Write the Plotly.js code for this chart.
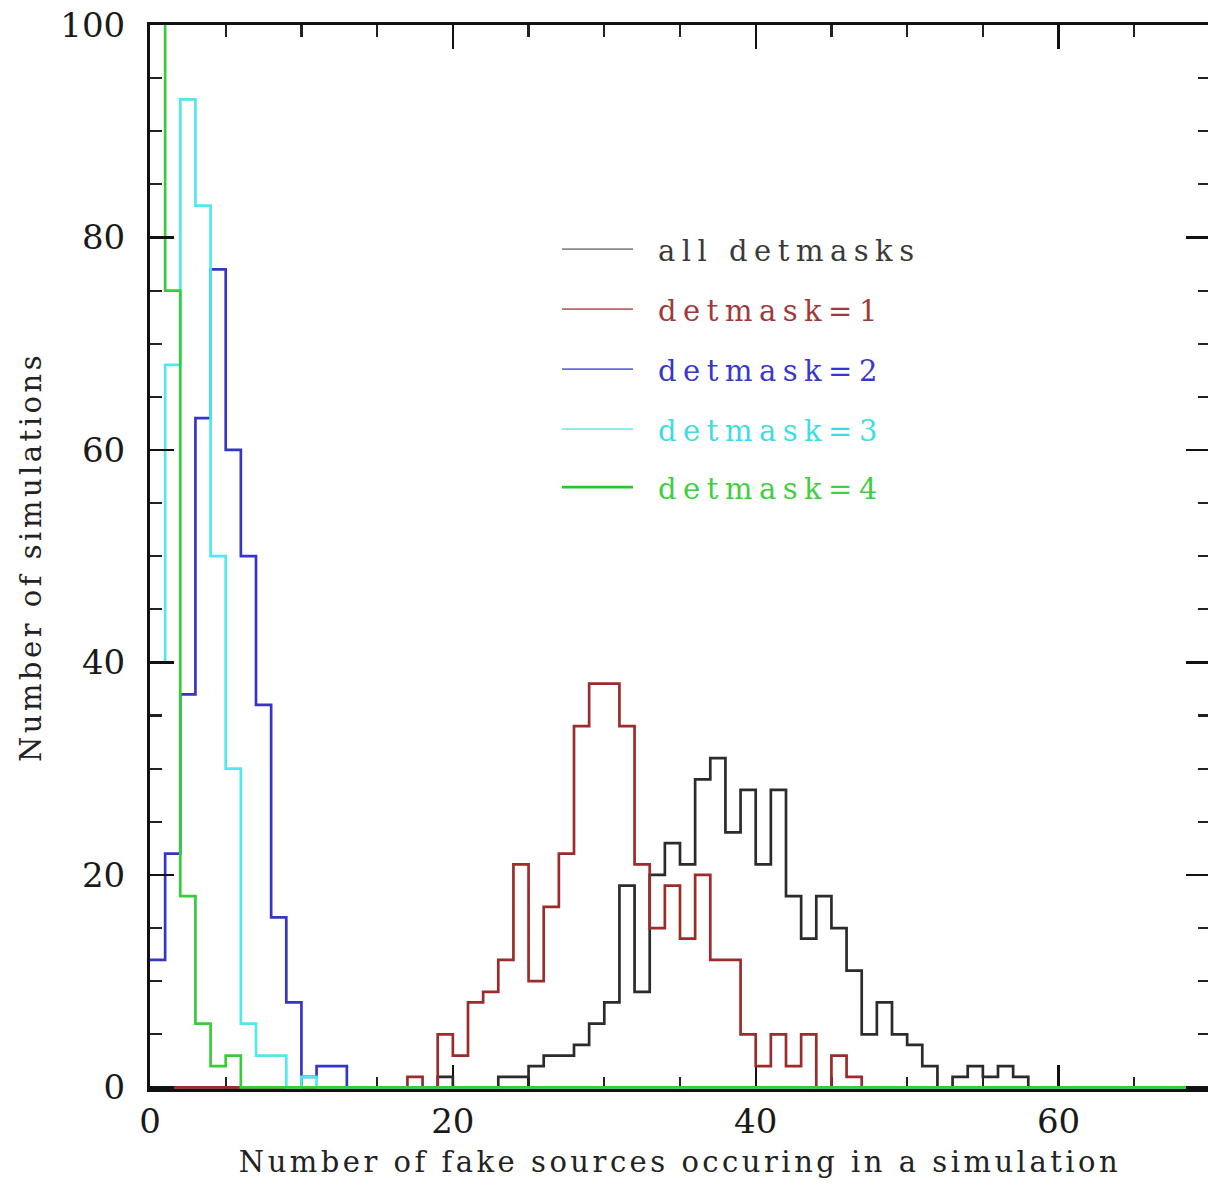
<!DOCTYPE html>
<html>
<head>
<meta charset="utf-8">
<script src="https://cdn.plot.ly/plotly-3.0.1.min.js"></script>
<style>
  html, body { margin: 0; padding: 0; background: #ffffff; overflow: hidden; }
  #chart { width: 1215px; height: 1185px; }
  .xtitle, .ytitle { letter-spacing: 3.5px; }
  .annotation-text { letter-spacing: 6.5px; }
</style>
</head>
<body>
<div id="chart"></div>
<script>
// ---- data (histogram counts per unit bin; first bin starts at *Start) ----
const nBins = 70;
const seriesNames = ["all detmasks", "detmask=1", "detmask=2", "detmask=3", "detmask=4"];

const allStart = 19;
const allCounts = [1,0,0,0,1,1,2,3,3,4,6,8,19,9,20,23,21,29,31,24,28,21,28,18,14,18,15,11,5,8,5,4,2,0,1,2,1,2,1];

const det1Start = 17;
const det1Counts = [1,0,5,3,8,9,12,21,10,17,22,34,38,38,34,21,15,19,14,20,12,12,5,2,5,2,5,0,3,1];

const det2Start = 0;
const det2Counts = [12,22,37,63,77,60,50,36,16,8,1,2,2];

const det3Start = 0;
const det3Counts = [40,68,93,83,50,30,6,3,3,0,1];

const det4Start = 0;
const det4Counts = [110,75,18,6,2,3];   // first bin runs off the top of the plot

const xTickVals = [0, 20, 40, 60];
const yTickVals = [0, 20, 40, 60, 80, 100];

// ---- styles ----
const lineColors   = ["#2b2b2b", "#9c2b2b", "#3535c8", "#50e8ec", "#38cc38"];
const legendLine   = ["#8a8a8a", "#b46a6a", "#6a6ad6", "#7ee8ec", "#22cc22"];
const legendText   = ["#3a3a3a", "#a03a3a", "#3838cc", "#3fdde2", "#3fcf3f"];
const legendWidth  = [1.6, 1.6, 1.6, 1.6, 2.6];

function fullSeries(start, counts) {
  const y = new Array(nBins).fill(0);
  counts.forEach((c, i) => { y[start + i] = c; });
  y.push(y[nBins - 1]);
  return y;
}
const edges = Array.from({length: nBins + 1}, (_, i) => i);

const starts = [allStart, det1Start, det2Start, det3Start, det4Start];
const counts = [allCounts, det1Counts, det2Counts, det3Counts, det4Counts];

const traces = seriesNames.map((name, k) => ({
  type: "scatter",
  mode: "lines",
  name: name,
  x: edges,
  y: fullSeries(starts[k], counts[k]),
  line: { shape: "hv", color: lineColors[k], width: 2.7 },
  hoverinfo: "skip"
}));

// ---- custom legend (lines + labels in paper coordinates) ----
const plotL = 150, plotW = 1060, plotT = 25, plotH = 1063.6;
function px2paperX(px) { return (px - plotL) / plotW; }
function px2paperY(py) { return (plotT + plotH - py) / plotH; }
const legendRowY = [249, 309, 369, 429, 487];

const shapes = seriesNames.map((n, k) => ({
  type: "line", xref: "paper", yref: "paper",
  x0: px2paperX(562), x1: px2paperX(633),
  y0: px2paperY(legendRowY[k]), y1: px2paperY(legendRowY[k]),
  line: { color: legendLine[k], width: legendWidth[k] }
}));

const annotations = seriesNames.map((n, k) => ({
  xref: "paper", yref: "paper",
  x: px2paperX(656), y: px2paperY(legendRowY[k] + 2),
  xanchor: "left", yanchor: "middle",
  text: n, showarrow: false,
  font: { family: "DejaVu Serif", size: 29, color: legendText[k] }
}));

const axisCommon = {
  showline: true, linecolor: "#111111", linewidth: 3,
  mirror: "ticks", ticks: "inside", ticklen: 24, tickwidth: 2.4, tickcolor: "#111111",
  showgrid: false, zeroline: false,
  tickfont: { family: "DejaVu Serif", size: 34, color: "#1a1a1a" },
  minor: { ticks: "inside", dtick: 5, ticklen: 12, tickwidth: 2.2, tickcolor: "#222222", showgrid: false }
};

const layout = {
  width: 1215, height: 1185,
  margin: { l: plotL, r: 5, t: plotT, b: 1185 - plotT - plotH },
  paper_bgcolor: "#ffffff", plot_bgcolor: "#ffffff",
  showlegend: false,
  xaxis: Object.assign({}, axisCommon, {
    range: [0, nBins], tickmode: "array", tickvals: xTickVals, ticktext: xTickVals.map(String),
    layer: "below traces", ticklabelstandoff: 0,
    title: { text: "Number of fake sources occuring in a simulation",
             font: { family: "DejaVu Serif", size: 29, color: "#222222" }, standoff: 12 }
  }),
  yaxis: Object.assign({}, axisCommon, {
    range: [-0.15, 100], tickmode: "array", tickvals: yTickVals, ticktext: yTickVals.map(String),
    layer: "above traces", ticklabelstandoff: 15,
    title: { text: "Number of simulations",
             font: { family: "DejaVu Serif", size: 29, color: "#222222" }, standoff: 11 }
  }),
  shapes: shapes,
  annotations: annotations
};

Plotly.newPlot("chart", traces, layout, { staticPlot: true, displayModeBar: false });
</script>
</body>
</html>
